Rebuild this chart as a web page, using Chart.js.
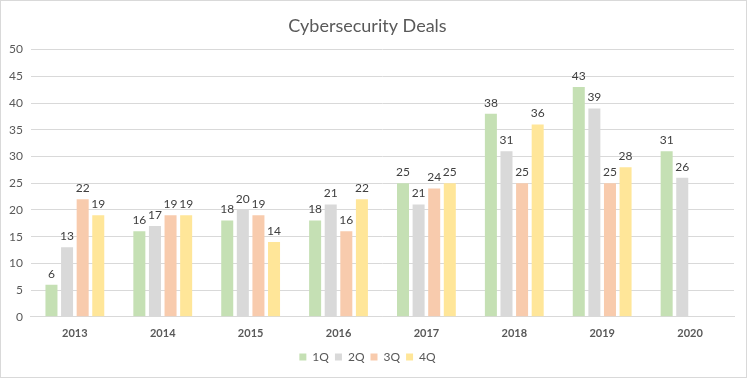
<!DOCTYPE html>
<html><head><meta charset="utf-8">
<script src="https://cdn.jsdelivr.net/npm/chart.js@4/dist/chart.umd.min.js"></script>
<style>
html,body{margin:0;padding:0;background:#fff;}
#wrap{width:747px;height:378px;box-sizing:border-box;border:1px solid #d9d9d9;position:relative;}
canvas{display:block;}
</style></head>
<body><div id="wrap"><canvas id="c" width="745" height="376"></canvas></div>
<script>
const categories = ['2013','2014','2015','2016','2017','2018','2019','2020'];
const q1 = [6,16,18,18,25,38,43,31];
const q2 = [13,17,20,21,21,31,39,26];
const q3 = [22,19,19,16,24,25,25,null];
const q4 = [19,19,14,22,25,36,28,null];
const seriesNames = ['1Q','2Q','3Q','4Q'];
const colors = ['#c5e0b4','#d9d9d9','#f8cbad','#ffe699'];
const FONT = 'Lato, "Open Sans", sans-serif';

const labelPlugin = {
  id:'barLabels',
  afterDatasetsDraw(chart){
    const ctx = chart.ctx;
    ctx.save();
    ctx.font = '12px ' + FONT;
    ctx.fillStyle = '#404040';
    ctx.textAlign = 'center';
    ctx.textBaseline = 'bottom';
    chart.data.datasets.forEach((ds,i)=>{
      const meta = chart.getDatasetMeta(i);
      meta.data.forEach((bar,j)=>{
        const v = ds.data[j];
        if(v===null||v===undefined) return;
        ctx.fillText(String(v), bar.x, bar.y - 5);
      });
    });
    ctx.restore();
  }
};

new Chart(document.getElementById('c'), {
  type:'bar',
  data:{
    labels:categories,
    datasets:[q1,q2,q3,q4].map((d,i)=>({
      label:seriesNames[i], data:d, backgroundColor:colors[i],
      categoryPercentage:0.71, barPercentage:0.77
    }))
  },
  options:{
    responsive:false, animation:false,
    layout:{padding:{left:0,right:12,top:4,bottom:4}},
    plugins:{
      title:{display:true,text:'Cybersecurity Deals',color:'#595959',
        font:{family:FONT,size:18,weight:'normal'},padding:{top:10,bottom:13}},
      legend:{position:'bottom',labels:{boxWidth:7,boxHeight:7,color:'#595959',
        font:{family:FONT,size:12},padding:6}},
      tooltip:{enabled:false}
    },
    scales:{
      x:{grid:{display:false},border:{color:'#d9d9d9'},
        ticks:{color:'#595959',font:{family:FONT,size:11,weight:'bold'},padding:2},
        afterFit(scale){ scale.height += 3; }},
      y:{min:0,max:50,ticks:{stepSize:5,color:'#595959',font:{family:FONT,size:12},padding:8},
        grid:{color:'#d9d9d9',drawTicks:false},border:{display:false}}
    }
  },
  plugins:[labelPlugin]
});
</script></body></html>
